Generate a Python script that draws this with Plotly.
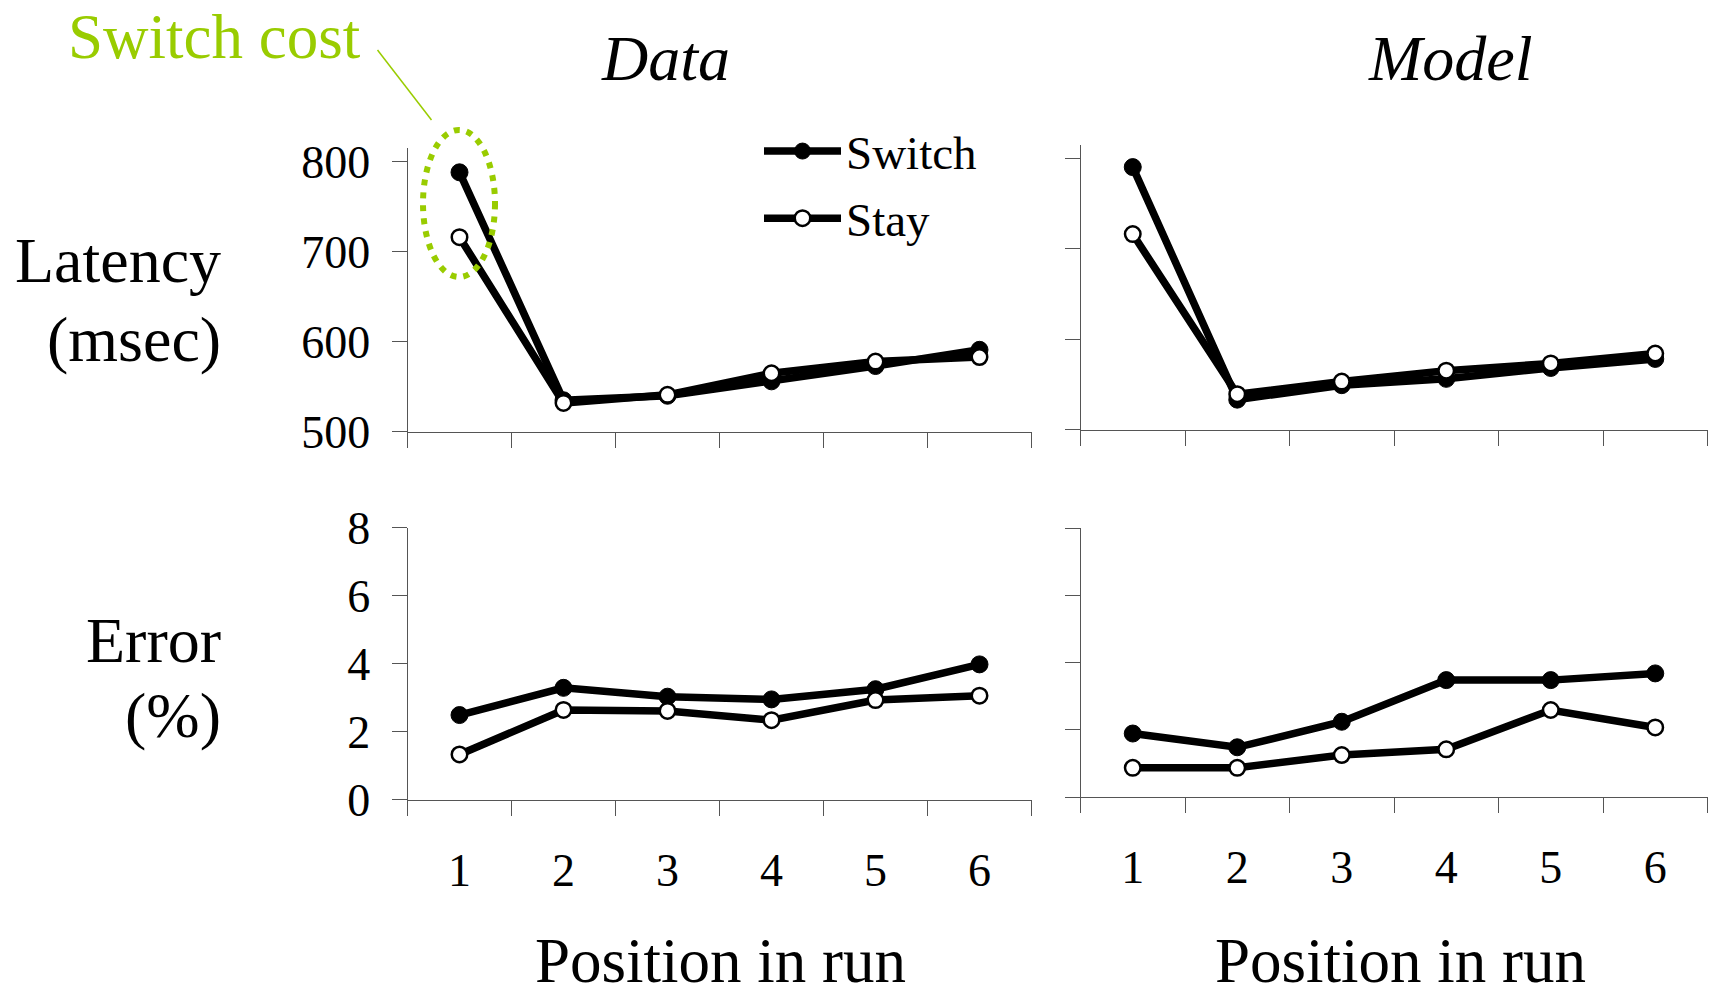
import plotly.graph_objects as go

W, H = 1710, 996

positions = [1, 2, 3, 4, 5, 6]
boundary_ticks = [0.5, 1.5, 2.5, 3.5, 4.5, 5.5, 6.5]
tick_labels = ["1", "2", "3", "4", "5", "6"]

data_lat_switch = [788, 535, 540, 556, 573, 591]
data_lat_stay = [716, 532, 541, 565, 578, 583]
model_lat_switch = [790, 533, 549, 556, 568, 578]
model_lat_stay = [716, 539, 553, 565, 573, 584]

data_err_switch = [2.49, 3.29, 3.03, 2.95, 3.25, 3.98]
data_err_stay = [1.33, 2.64, 2.61, 2.34, 2.93, 3.06]
model_err_switch = [1.89, 1.48, 2.24, 3.48, 3.48, 3.68]
model_err_stay = [0.87, 0.87, 1.25, 1.42, 2.59, 2.07]

lat_ticks = [500, 600, 700, 800]
err_ticks = [0, 2, 4, 6, 8]

FONT = "Liberation Serif, Times New Roman, serif"
GREEN = "#99CC00"
AX = "#555555"


def px(x):
    return x / W


def py(y):
    return 1 - y / H


fig = go.Figure()

panels = [
    ("x", "y", data_lat_switch, data_lat_stay, True),
    ("x2", "y2", model_lat_switch, model_lat_stay, False),
    ("x3", "y3", data_err_switch, data_err_stay, False),
    ("x4", "y4", model_err_switch, model_err_stay, False),
]

for xa, ya, sw, st, leg in panels:
    fig.add_trace(go.Scatter(
        x=positions, y=sw, xaxis=xa, yaxis=ya, mode="lines+markers",
        name="Switch", showlegend=leg, legendgroup="sw",
        line=dict(color="black", width=7.5),
        marker=dict(color="black", size=17, line=dict(color="black", width=1)),
        cliponaxis=False,
    ))
    fig.add_trace(go.Scatter(
        x=positions, y=st, xaxis=xa, yaxis=ya, mode="lines+markers",
        name="Stay", showlegend=leg, legendgroup="st",
        line=dict(color="black", width=7.5),
        marker=dict(color="white", size=15.5, line=dict(color="black", width=2.5)),
        cliponaxis=False,
    ))


def xaxis(domain, anchor, labels):
    return dict(
        domain=domain, anchor=anchor, range=[0.5, 6.5],
        tickmode="array", tickvals=positions, ticktext=tick_labels,
        ticks="", showticklabels=labels, ticklabelstandoff=30,
        tickfont=dict(family=FONT, size=46, color="black"),
        showline=True, linecolor=AX, linewidth=1, automargin=False,
        showgrid=False, zeroline=False, fixedrange=True,
        minor=dict(tickmode="array", tickvals=boundary_ticks, ticks="outside",
                   ticklen=15, tickwidth=1, tickcolor=AX, showgrid=False),
    )


def yaxis(domain, anchor, rng, tv, labels):
    return dict(
        domain=domain, anchor=anchor, range=rng,
        tickmode="array", tickvals=tv, ticks="outside", ticklen=15,
        tickwidth=1, tickcolor=AX, showticklabels=labels,
        ticklabelstandoff=12, automargin=False,
        tickfont=dict(family=FONT, size=46, color="black"),
        showline=True, linecolor=AX, linewidth=1,
        showgrid=False, zeroline=False, fixedrange=True,
    )


data_x = [px(407.5), px(1031.5)]
model_x = [px(1080.5), px(1707.5)]

fig.update_layout(
    template="none",
    width=W, height=H,
    margin=dict(l=0, r=0, t=0, b=0, pad=0, autoexpand=False),
    paper_bgcolor="white", plot_bgcolor="white",
    font=dict(family=FONT, color="black"),
    xaxis=xaxis(data_x, "y", False),
    yaxis=yaxis([py(431.8), py(148)], "x", [500, 815], lat_ticks, True),
    xaxis2=xaxis(model_x, "y2", False),
    yaxis2=yaxis([py(429.5), py(144.5)], "x2", [500, 815], lat_ticks, False),
    xaxis3=xaxis(data_x, "y3", True),
    yaxis3=yaxis([py(799.7), py(527.7)], "x3", [0, 8], err_ticks, True),
    xaxis4=xaxis(model_x, "y4", True),
    yaxis4=yaxis([py(797), py(528.3)], "x4", [0, 8], err_ticks, False),
    legend=dict(
        x=px(759), y=py(114), xanchor="left", yanchor="top",
        font=dict(family=FONT, size=47, color="black"),
        bgcolor="rgba(0,0,0,0)", itemwidth=77, tracegroupgap=3,
    ),
    showlegend=True,
)

ann = []


def text(t, x, y, size, xanchor="center", color="black"):
    ann.append(dict(text=t, x=px(x), y=py(y), xref="paper", yref="paper",
                    xanchor=xanchor, yanchor="middle", showarrow=False,
                    font=dict(family=FONT, size=size, color=color)))


text("Switch cost", 66, 37, 63, "left", GREEN)
text("<i>Data</i>", 665, 58, 64)
text("<i>Model</i>", 1450, 58, 64)
text("Latency", 223, 261, 64, "right")
text("(msec)", 223, 339, 64, "right")
text("Error", 223, 640, 64, "right")
text("(%)", 223, 715, 64, "right")
text("Position in run", 720, 961, 63)
text("Position in run", 1400, 961, 63)

fig.update_layout(annotations=ann)

fig.add_shape(type="circle", xref="paper", yref="paper",
              x0=px(423), x1=px(495), y0=py(277), y1=py(130),
              line=dict(color=GREEN, width=6, dash="6px,7px"))
fig.add_shape(type="line", xref="paper", yref="paper",
              x0=px(377.5), y0=py(50), x1=px(431.5), y1=py(120),
              line=dict(color=GREEN, width=1.5))

fig.write_html(
    "out.html",
    config={"displayModeBar": False},
    post_script="document.body.style.margin='0';document.body.style.overflow='hidden';",
)
